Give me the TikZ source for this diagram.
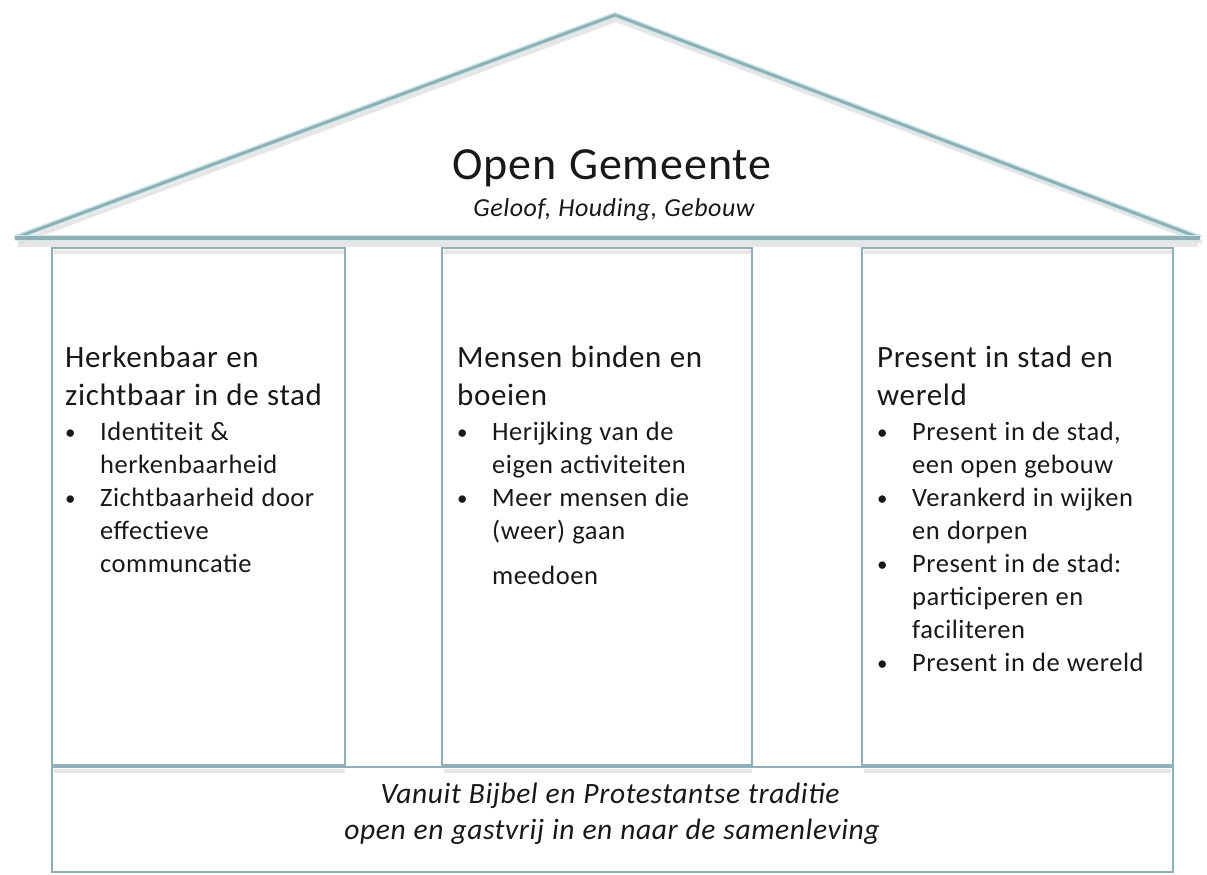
\documentclass[tikz,border=0pt]{standalone}
\usepackage{fontspec}
\setmainfont{Carlito}[LetterSpace=2]
\usepackage{enumitem}
\usepackage{tikz}
\usetikzlibrary{positioning}

\definecolor{lijn}{RGB}{143,176,182}
\definecolor{gloed}{RGB}{208,232,236}
\definecolor{tekst}{RGB}{24,24,24}

\newcommand{\titelfont}{\fontsize{46}{56}\selectfont\spaceskip=.27em}
\newcommand{\ondertitelfont}{\fontsize{26}{30}\selectfont\itshape\spaceskip=.27em}
\newcommand{\kopfont}{\fontsize{31}{38}\selectfont\spaceskip=.27em}
\newcommand{\puntfont}{\fontsize{26.5}{33}\selectfont\spaceskip=.27em}
\newcommand{\voetfont}{\fontsize{29.5}{36}\selectfont\itshape\spaceskip=.27em}

\setlist[itemize]{label={\raisebox{1pt}{\fontsize{21}{21}\selectfont\textbullet}}, leftmargin=35pt,
  labelindent=0pt, labelwidth=8pt, labelsep=*, align=left, topsep=2pt, partopsep=0pt,
  parsep=0pt, itemsep=0pt}

\begin{document}
\begin{tikzpicture}
  [x=1pt,y=-1pt,
   schaduw/.style={draw=black!14,line width=4pt,opacity=.7},
   balk/.style={draw=lijn,line width=3pt,preaction={draw=gloed,line width=6pt}},
   zuil/.style={draw=lijn,line width=2.6pt},
   kolom/.style={anchor=base west,inner sep=0pt,align=left,text=tekst},
   midden/.style={anchor=base,inner sep=0pt,align=center,text=tekst}]
  \useasboundingbox (0,0) rectangle (1207,875);

%   dak en balk
  \draw[schaduw] (20,242) -- (616,20) -- (1202,242);
  \draw[balk,line join=miter] (15,238) -- (615,15) -- (1200,238);
  \draw[schaduw,line width=6pt] (18,244) -- (1198,244);
  \draw[balk,line width=4.5pt] (15,238) -- (1200,238);

%   zuilen
  \draw[schaduw,line width=4pt] (54,252) -- (345,252);
  \draw[schaduw,line width=4pt] (444,252) -- (752,252);
  \draw[schaduw,line width=4pt] (864,252) -- (1173,252);
  \draw[zuil] (52,248) rectangle (345,765);
  \draw[zuil] (442,248) rectangle (752,765);
  \draw[zuil] (862,248) rectangle (1173,765);

%   fundament
  \draw[schaduw,line width=4pt] (54,771) -- (345,771);
  \draw[schaduw,line width=4pt] (444,771) -- (752,771);
  \draw[schaduw,line width=4pt] (864,771) -- (1171,771);
  \draw[zuil] (52,767) rectangle (1173,872);

  \node[midden] (titel) at (612,179) {\titelfont Open Gemeente};
  \node[midden] (ondertitel) at (614,216) {\ondertitelfont Geloof, Houding, Gebouw};

  \node[kolom,text width=278pt] (herkenbaar) at (65,367) {\kopfont Herkenbaar en\\zichtbaar in de stad\par
    \puntfont
    \begin{itemize}
      \item Identiteit \&\\herkenbaarheid
      \item Zichtbaarheid door\\effectieve\\communcatie
    \end{itemize}};

  \node[kolom,text width=288pt] (binden) at (457,367) {\kopfont Mensen binden en\\boeien\par
    \puntfont
    \begin{itemize}
      \item Herijking van de\\eigen activiteiten
      \item Meer mensen die\\(weer) gaan\\[12pt]meedoen
    \end{itemize}};

  \node[kolom,text width=296pt] (present) at (877,367) {\kopfont Present in stad en\\wereld\par
    \puntfont
    \begin{itemize}
      \item Present in de stad,\\een open gebouw
      \item Verankerd in wijken\\en dorpen
      \item Present in de stad:\\participeren en\\faciliteren
      \item Present in de wereld
    \end{itemize}};

  \node[midden] (bijbel) at (610,803) {\voetfont Vanuit Bijbel en Protestantse traditie};
  \node[midden] (gastvrij) at (612,839) {\voetfont open en gastvrij in en naar de samenleving};

\end{tikzpicture}
\end{document}
